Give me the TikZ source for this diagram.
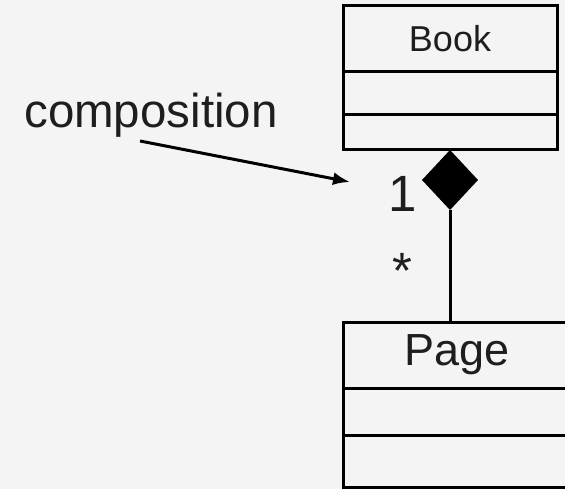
\documentclass[tikz,border=0pt]{standalone}
\usepackage{fontspec}
\setmainfont{Liberation Sans}
\usetikzlibrary{arrows.meta,positioning,shapes.geometric}

\definecolor{paper}{RGB}{244,244,244}
\definecolor{ink}{RGB}{30,30,30}

\tikzset{
  classbox/.style={draw=black,line width=3pt,inner sep=0pt,outer sep=0pt,text=ink},
  whole/.style={diamond,fill=black,inner sep=0pt,outer sep=0pt,minimum width=56pt,minimum height=60pt},
  link/.style={line width=3pt},
  mult/.style={font=\fontsize{51}{55}\selectfont,text=ink,inner sep=0pt,anchor=base},
}

\begin{document}
\begin{tikzpicture}[x=1pt,y=-1pt]
  \useasboundingbox (0,0) rectangle (565,489);
  \clip (0,0) rectangle (565,489);
  \fill[paper] (0,0) rectangle (565,489);
  % Book class with two empty compartments
  \node[classbox,minimum width=214pt,minimum height=66pt,font=\fontsize{36}{40}\selectfont] (book) at (450,39) {Book};
  \node[classbox,minimum width=214pt,minimum height=43pt,below=0pt of book] (bookattr) {};
  \node[classbox,minimum width=214pt,minimum height=35pt,below=0pt of bookattr] (bookops) {};
  % filled diamond on the owner side
  \node[whole,below=0pt of bookops] (diam) {};
  % Page class, runs past the right edge
  \node[classbox,minimum width=228pt,minimum height=66pt,font=\fontsize{45}{49}\selectfont] (page) at (457,355) {Page};
  \node[classbox,minimum width=228pt,minimum height=47pt,below=0pt of page] (pageattr) {};
  \node[classbox,minimum width=228pt,minimum height=52pt,below=0pt of pageattr] (pageops) {};
  \draw[link] (diam.south) -- (diam.south |- page.north);
  % multiplicities
  \node[mult] (one) at (403,212) {1};
  \node[mult] (many) at (402,288) {*};
  % label and pointer
  \node[font=\fontsize{47.5}{52}\selectfont,text=ink,inner sep=0pt,anchor=base] (comp) at (151,128) {composition};
  \coordinate (tail) at (140,141);
  \coordinate (tip) at (350,182);
  \draw[link,-{Latex[length=17pt,width=13pt]}] (tail) -- (tip);
\end{tikzpicture}
\end{document}
